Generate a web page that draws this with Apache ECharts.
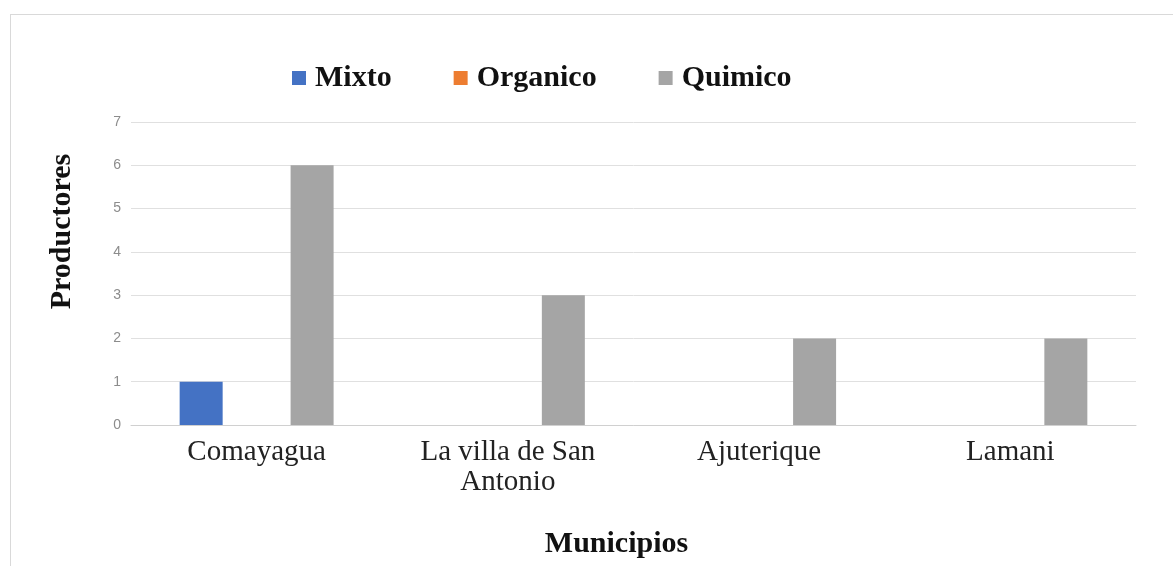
<!DOCTYPE html>
<html>
<head>
<meta charset="utf-8">
<script src="https://cdn.jsdelivr.net/npm/echarts@6/dist/echarts.min.js"></script>
<style>
  html, body { margin: 0; padding: 0; background: #fff; }
  #frame { position: absolute; left: 10px; top: 14px; width: 1170px; height: 560px; border: 1px solid #d9d9d9; box-sizing: border-box; }
  #chart-container { width: 1173px; height: 566px; }
</style>
</head>
<body>
<div id="frame"></div>
<div id="chart-container"></div>
<script>
// data
var municipios = ["Comayagua", "La villa de San\nAntonio", "Ajuterique", "Lamani"];
var mixto = [1, 0, 0, 0];
var organico = [0, 0, 0, 0];
var quimico = [6, 3, 2, 2];
var yTicks = [0, 1, 2, 3, 4, 5, 6, 7];

var chartDom = document.getElementById("chart-container");
var myChart = echarts.init(chartDom);

var serif = "Liberation Serif";

var option = {
  animation: false,
  color: ["#4472c4", "#ed7d31", "#a5a5a5"],
  legend: {
    top: 58,
    left: 287,
    itemWidth: 14,
    itemHeight: 14,
    itemGap: 62,
    icon: "rect",
    textStyle: { fontFamily: serif, fontWeight: "bold", fontSize: 30, color: "#111", padding: [0, 0, 0, 4] },
    data: ["Mixto", "Organico", "Quimico"]
  },
  grid: { left: 131, right: 37, top: 122, bottom: 141, containLabel: false },
  xAxis: {
    type: "category",
    data: municipios,
    name: "Municipios",
    nameLocation: "middle",
    nameGap: 104,
    nameTextStyle: { fontFamily: serif, fontWeight: "bold", fontSize: 30, color: "#111", padding: [0, 34, 0, 0] },
    axisTick: { show: false },
    axisLine: { lineStyle: { color: "#d0d0d0", width: 1 } },
    axisLabel: { fontFamily: serif, fontSize: 29, color: "#222", margin: 12, lineHeight: 30, interval: 0 }
  },
  yAxis: {
    type: "value",
    min: yTicks[0],
    max: yTicks[yTicks.length - 1],
    interval: 1,
    name: "Productores",
    nameLocation: "middle",
    nameGap: 54,
    nameTextStyle: { fontFamily: serif, fontWeight: "bold", fontSize: 30, color: "#111", padding: [0, 0, 0, 84] },
    axisLine: { show: false },
    axisTick: { show: false },
    axisLabel: { fontFamily: "Liberation Sans", fontSize: 14, color: "#8c8c8c", margin: 10 },
    splitLine: { lineStyle: { color: "#e0e0e0", width: 1 } }
  },
  series: [
    { name: "Mixto", type: "bar", data: mixto, barWidth: 43, barGap: "29%", barCategoryGap: "39%" },
    { name: "Organico", type: "bar", data: organico, barWidth: 43 },
    { name: "Quimico", type: "bar", data: quimico, barWidth: 43 }
  ]
};

option && myChart.setOption(option);

window.addEventListener("resize", function () {
  myChart.resize();
});
</script>
</body>
</html>
